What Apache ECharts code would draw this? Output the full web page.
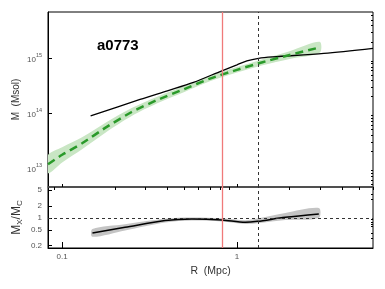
<!DOCTYPE html>
<html><head><meta charset="utf-8">
<script src="https://cdn.jsdelivr.net/npm/echarts@6/dist/echarts.min.js"></script>
<style>html,body{margin:0;padding:0;background:#fff}#c{width:385px;height:289px}</style>
</head><body><div id="c"></div>
<script>
// ---- data ----
const bandR      = [0.083, 0.1, 0.13, 0.18, 0.25, 0.35, 0.5, 0.7, 1.0, 1.4, 2.0, 2.97];
const greenM     = [1.17e13, 1.74e13, 2.82e13, 5.62e13, 1.05e14, 1.74e14, 2.75e14, 4.27e14, 6.17e14, 8.51e14, 1.15e15, 1.58e15];
const greenLow   = [8.04e12, 1.26e13, 2.19e13, 4.57e13, 8.85e13, 1.51e14, 2.43e14, 3.80e14, 5.50e14, 7.50e14, 9.77e14, 1.26e15];
const greenHigh  = [1.72e13, 2.40e13, 3.63e13, 6.92e13, 1.24e14, 2.00e14, 3.13e14, 4.79e14, 6.92e14, 9.66e14, 1.35e15, 2.00e15];
const blackR     = [0.1455, 0.279, 0.4, 0.564, 0.82, 1.0, 1.14, 1.33, 1.6, 3.14, 6.0];
const blackM     = [8.9e13, 1.78e14, 2.56e14, 3.64e14, 5.93e14, 7.6e14, 9.0e14, 1.0e15, 1.06e15, 1.23e15, 1.52e15];
const ratioR     = [0.149, 0.229, 0.388, 0.552, 0.82, 1.116, 1.31, 1.89, 2.94];
const ratio      = [0.42, 0.58, 0.856, 0.94, 0.89, 0.776, 0.82, 1.035, 1.26];
const ratioLow   = [0.334, 0.483, 0.763, 0.857, 0.812, 0.708, 0.731, 0.881, 1.0];
const ratioHigh  = [0.529, 0.697, 0.960, 1.030, 0.975, 0.871, 0.963, 1.333, 1.78];
const rLine      = 0.82;   // red vertical
const dashLine   = 1.32;   // black dashed vertical
const xMajor     = [0.1, 1];
const xMinor     = [0.09, 0.2, 0.3, 0.4, 0.5, 0.6, 0.7, 0.8, 0.9, 2, 3, 4, 5, 6];
const yTopLabels = [1e13, 1e14, 1e15];
const yTopMinor  = [5e12, 6e12, 7e12, 8e12, 9e12, 2e13, 3e13, 4e13, 5e13, 6e13, 7e13, 8e13, 9e13,
                    2e14, 3e14, 4e14, 5e14, 6e14, 7e14, 8e14, 9e14, 2e15, 3e15, 4e15, 5e15, 6e15, 7e15];
const yBotLabels = [0.2, 0.5, 1, 2, 5];
const yBotMinor  = [0.3, 0.4, 0.6, 0.7, 0.8, 0.9, 3, 4];
const titleText  = 'a0773';

const zip = (a, b) => a.map((v, i) => [v, b[i]]);

const FONT = 'Liberation Sans, Arial, Helvetica, sans-serif';
const LBL = '#555';

function topFmt(v) {
  const e = Math.round(Math.log10(v));
  return '{b|10}{s|' + e + '}';
}

// polygon band drawn through the series' own coordinate system
function bandSeries(xi, yi, R, lo, hi, color) {
  return {
    type: 'custom', xAxisIndex: xi, yAxisIndex: yi, silent: true, z: 1,
    data: zip(R, lo).concat(zip(R, hi)),
    encode: {x: 0, y: 1},
    renderItem: function (params, api) {
      if (params.dataIndex !== 0) return;
      const pts = [];
      for (let i = 0; i < R.length; i++) pts.push(api.coord([R[i], hi[i]]));
      for (let i = R.length - 1; i >= 0; i--) pts.push(api.coord([R[i], lo[i]]));
      return {type: 'polygon', shape: {points: pts, smooth: 0.3},
        clipPath: {type: 'rect', shape: {x: params.coordSys.x, y: params.coordSys.y, width: params.coordSys.width, height: params.coordSys.height}},
        style: {fill: color}};
    }
  };
}

const xBase = {type: 'log', min: 0.083, max: 6, splitLine: {show: false}};
const chart = echarts.init(document.getElementById('c'), null, {renderer: 'canvas'});
chart.setOption({
  animation: false,
  backgroundColor: '#fff',
  title: {text: titleText, left: 92, top: 33, textStyle: {fontFamily: FONT, fontWeight: 'bold', fontSize: 15, color: '#000'}},
  grid: [
    {left: 48, top: 12, right: 12, height: 175, show: true, borderColor: '#000', borderWidth: 1},
    {left: 48, top: 187, right: 12, height: 61, show: true, borderColor: '#000', borderWidth: 1}
  ],
  xAxis: [
    Object.assign({}, xBase, {gridIndex: 0, axisLine: {show: true, lineStyle: {color: '#555', width: 1.5}},
      axisLabel: {show: false}, axisTick: {inside: true, length: 3, customValues: xMajor, lineStyle: {color: '#000'}}}),
    Object.assign({}, xBase, {gridIndex: 1, axisLine: {show: true, lineStyle: {color: '#000'}},
      name: 'R  (Mpc)', nameLocation: 'middle', nameGap: 18, nameMoveOverlap: false,
      nameTextStyle: {fontFamily: FONT, fontSize: 10.5, color: '#333'},
      axisLabel: {customValues: xMajor, fontFamily: FONT, fontSize: 8, color: LBL, margin: 5, formatter: v => String(v)},
      axisTick: {inside: true, length: 6, customValues: xMajor, lineStyle: {color: '#000'}}}),
    Object.assign({}, xBase, {gridIndex: 1, axisLine: {show: false}, axisLabel: {show: false},
      axisTick: {inside: true, length: 3, customValues: xMinor, lineStyle: {color: '#000'}}})
  ],
  yAxis: [
    {type: 'log', gridIndex: 0, min: 4.5e12, max: 7e15, splitLine: {show: false},
      axisLine: {show: true, lineStyle: {color: '#000'}},
      name: 'M  (Msol)', nameLocation: 'middle', nameGap: 27, nameRotate: 90, nameMoveOverlap: false,
      nameTextStyle: {fontFamily: FONT, fontSize: 10, color: '#333'},
      axisLabel: {customValues: yTopLabels, formatter: topFmt, margin: 6, color: LBL, fontFamily: FONT,
        rich: {b: {fontSize: 8, color: LBL, fontFamily: FONT, lineHeight: 11, verticalAlign: 'bottom'},
               s: {fontSize: 5.5, color: LBL, fontFamily: FONT, lineHeight: 11, verticalAlign: 'top'}}},
      axisTick: {inside: true, length: 4, customValues: yTopLabels, lineStyle: {color: '#000'}}},
    {type: 'log', gridIndex: 0, min: 4.5e12, max: 7e15, splitLine: {show: false}, axisLine: {show: false},
      axisLabel: {show: false}, axisTick: {inside: true, length: 2, customValues: yTopMinor, lineStyle: {color: '#000'}}},
    {type: 'log', gridIndex: 1, min: 0.175, max: 6, splitLine: {show: false},
      axisLine: {show: true, lineStyle: {color: '#000'}},
      name: 'M{s|X}/M{s|C}', nameLocation: 'middle', nameGap: 24, nameRotate: 90, nameMoveOverlap: false,
      nameTextStyle: {fontFamily: FONT, fontSize: 12, color: '#333',
        rich: {s: {fontSize: 8, fontFamily: FONT, color: '#333', verticalAlign: 'bottom', lineHeight: 14, padding: [3, 0, 0, 0]}}},
      axisLabel: {customValues: yBotLabels, fontFamily: FONT, fontSize: 8, color: LBL, margin: 6, formatter: v => String(v)},
      axisTick: {inside: true, length: 4, customValues: yBotLabels, lineStyle: {color: '#000'}}},
    {type: 'log', gridIndex: 1, min: 0.175, max: 6, splitLine: {show: false}, axisLine: {show: false},
      axisLabel: {show: false}, axisTick: {inside: true, length: 2, customValues: yBotMinor, lineStyle: {color: '#000'}}}
  ],
  series: [
    bandSeries(0, 0, bandR, greenLow, greenHigh, '#c9e6c4'),
    {type: 'line', xAxisIndex: 0, yAxisIndex: 0, data: zip(blackR, blackM), symbol: 'none', smooth: 0.3,
      lineStyle: {color: '#000', width: 1.3}, z: 3},
    {type: 'line', xAxisIndex: 0, yAxisIndex: 0, data: zip(bandR, greenM), symbol: 'none', smooth: 0.2,
      lineStyle: {color: '#2a9a2a', width: 2.5, type: [8, 5]}, z: 4,
      markLine: {silent: true, symbol: 'none', label: {show: false}, animation: false,
        data: [
          {xAxis: rLine, lineStyle: {color: '#f07a7a', width: 1.3, type: 'solid'}},
          {xAxis: dashLine, lineStyle: {color: '#333', width: 1, type: [3, 3]}}
        ]}},
    bandSeries(1, 2, ratioR, ratioLow, ratioHigh, '#c4c4c4'),
    {type: 'line', xAxisIndex: 1, yAxisIndex: 2, data: zip(ratioR, ratio), symbol: 'none', smooth: 0.3,
      lineStyle: {color: '#000', width: 1.5}, z: 4,
      markLine: {silent: true, symbol: 'none', label: {show: false}, animation: false,
        data: [
          {yAxis: 1, lineStyle: {color: '#333', width: 1, type: [3, 3]}},
          {xAxis: rLine, lineStyle: {color: '#f07a7a', width: 1.3, type: 'solid'}},
          {xAxis: dashLine, lineStyle: {color: '#333', width: 1, type: [3, 3]}}
        ]}}
  ]
});
</script></body></html>
